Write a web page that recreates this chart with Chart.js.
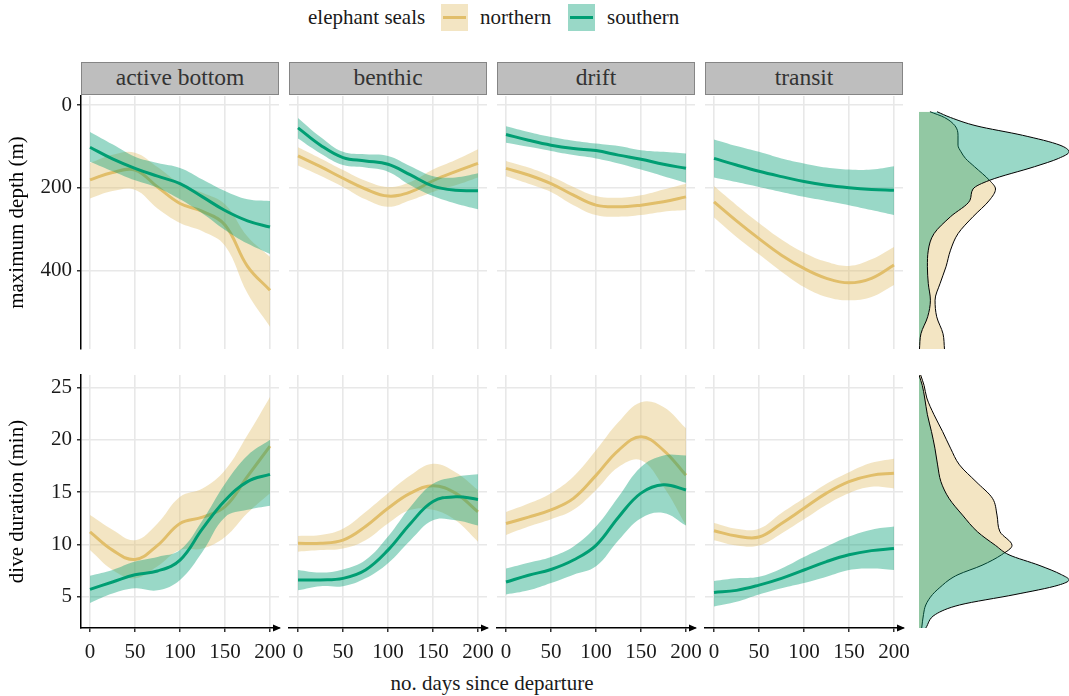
<!DOCTYPE html>
<html>
<head>
<meta charset="utf-8">
<title>Elephant seal dives</title>
<script src="https://cdn.jsdelivr.net/npm/chart.js@4/dist/chart.umd.min.js"></script>
<style>
  body { margin: 0; background: #fff; }
  #wrap { position: relative; width: 1069px; height: 696px; overflow: hidden; font-family: "Liberation Serif", serif; color: #1a1a1a; }
  #wrap canvas { position: absolute; }
  .strip { position: absolute; top: 62px; width: 198px; height: 33px; box-sizing: border-box; background: #bebebe; border: 1.5px solid #858585; font-size: 23.5px; line-height: 29px; text-align: center; color: #333; }
  .txt { position: absolute; font-size: 21px; line-height: 24px; white-space: nowrap; }
  .key { position: absolute; top: 4px; width: 27px; height: 27px; }
  .key i { position: absolute; left: 2px; right: 2px; top: 12px; height: 3px; }
</style>
</head>
<body>
<div id="wrap"></div>
<script>
// Values (smooth fits with 95% bands)
const days = [0, 25, 50, 75, 100, 125, 150, 175, 200];
const dayTicks = [0, 50, 100, 150, 200];
const depthTicks = [0, 200, 400];
const durationTicks = [5, 10, 15, 20, 25];
const dives = ["active bottom", "benthic", "drift", "transit"];
const species = ["northern", "southern"];

// maximum depth (m): one row per dive type
const depthNorthFit = [
  [181, 163, 157, 198, 238, 257, 290, 390, 448],
  [123, 149, 177, 203, 220, 210, 183, 161, 141],
  [153, 169, 190, 218, 242, 246, 242, 234, 222],
  [234, 280, 323, 363, 395, 419, 430, 419, 387]
];
const depthNorthLow = [
  [140, 120, 115, 150, 190, 212, 240, 318, 367],
  [102, 129, 157, 183, 198, 186, 156, 133, 107],
  [135, 151, 172, 198, 220, 224, 218, 204, 190],
  [196, 242, 285, 325, 357, 379, 389, 373, 343]
];
const depthNorthHigh = [
  [226, 208, 205, 250, 285, 305, 340, 455, 536],
  [146, 171, 198, 228, 246, 230, 210, 194, 175],
  [172, 190, 210, 242, 266, 270, 266, 258, 254],
  [272, 319, 361, 403, 440, 464, 472, 464, 435]
];
const depthSouthFit = [
  [102, 130, 153, 172, 190, 222, 255, 280, 295],
  [55, 97, 127, 135, 143, 169, 196, 206, 207],
  [71, 85, 97, 105, 110, 121, 131, 143, 153],
  [129, 145, 160, 173, 185, 194, 200, 204, 206]
];
const depthSouthLow = [
  [65, 95, 125, 140, 152, 180, 208, 228, 232],
  [31, 77, 113, 119, 123, 148, 172, 175, 165],
  [51, 65, 77, 86, 93, 99, 109, 113, 117],
  [83, 99, 113, 129, 141, 151, 156, 156, 148]
];
const depthSouthHigh = [
  [137, 160, 182, 200, 228, 262, 302, 335, 360],
  [81, 117, 145, 151, 161, 194, 220, 238, 252],
  [91, 101, 111, 121, 129, 141, 156, 172, 188],
  [175, 186, 198, 210, 222, 232, 242, 254, 266]
];

// dive duration (min)
const durNorthFit = [
  [11.2, 9.45, 8.55, 9.9, 12.0, 12.6, 13.6, 16.5, 19.4],
  [10.1, 10.1, 10.4, 11.7, 13.45, 14.9, 15.6, 14.9, 13.1],
  [12.0, 12.6, 13.3, 14.4, 16.6, 19.0, 20.3, 19.0, 16.6],
  [11.3, 10.8, 10.7, 12.0, 13.45, 14.9, 16.0, 16.6, 16.8]
];
const durNorthLow = [
  [9.45, 7.55, 6.75, 7.9, 9.45, 9.6, 10.7, 13.0, 14.9],
  [9.3, 9.45, 9.6, 10.4, 12.0, 13.3, 13.3, 12.3, 10.25],
  [10.9, 11.7, 12.4, 13.3, 15.2, 17.4, 18.05, 15.5, 11.8],
  [10.4, 9.9, 9.9, 11.05, 12.4, 13.8, 14.9, 15.5, 15.35]
];
const durNorthHigh = [
  [12.8, 11.4, 10.4, 12.0, 14.55, 15.35, 17.1, 20.45, 24.1],
  [10.8, 10.9, 11.5, 13.1, 14.9, 16.6, 17.7, 16.9, 15.2],
  [13.1, 13.9, 14.9, 16.5, 19.0, 21.7, 23.6, 23.15, 21.1],
  [12.05, 11.5, 11.5, 13.0, 14.4, 15.8, 16.9, 17.8, 18.2]
];
const durSouthFit = [
  [5.7, 6.4, 7.1, 7.45, 8.5, 11.5, 14.2, 16.0, 16.7],
  [6.6, 6.6, 6.75, 7.55, 9.45, 12.0, 14.1, 14.55, 14.3],
  [6.4, 7.05, 7.6, 8.5, 9.9, 12.6, 14.9, 15.7, 15.2],
  [5.4, 5.6, 6.1, 6.75, 7.55, 8.35, 9.0, 9.4, 9.6]
];
const durSouthLow = [
  [4.4, 5.3, 5.8, 5.6, 6.6, 9.3, 12.6, 13.3, 13.7],
  [5.6, 6.0, 6.0, 6.75, 8.2, 10.4, 12.3, 12.3, 11.8],
  [5.2, 5.6, 6.3, 7.1, 7.9, 10.4, 12.5, 13.0, 11.8],
  [4.05, 4.5, 5.2, 5.8, 6.3, 6.9, 7.55, 7.7, 7.55]
];
const durSouthHigh = [
  [7.0, 7.55, 8.35, 8.8, 9.45, 12.3, 15.8, 18.5, 20.0],
  [7.55, 7.3, 7.6, 8.5, 10.75, 13.6, 15.8, 16.45, 16.7],
  [7.7, 8.25, 8.8, 9.8, 11.7, 14.55, 17.4, 18.5, 18.5],
  [6.5, 6.75, 6.9, 7.7, 8.8, 9.8, 10.75, 11.4, 11.7]
];

// marginal densities (scaled so the highest peak is 1)
const depthGrid = [16, 30, 50, 73, 97, 113, 129, 149, 182, 203, 230, 270, 311, 351, 391, 432, 472, 512, 553, 591];
const depthDensNorth = [0.073, 0.17, 0.24, 0.26, 0.26, 0.28, 0.31, 0.37, 0.47, 0.51, 0.47, 0.36, 0.26, 0.21, 0.18, 0.14, 0.107, 0.118, 0.16, 0.17];
const depthDensSouth = [0.12, 0.21, 0.38, 0.69, 0.94, 1.0, 0.93, 0.77, 0.47, 0.36, 0.34, 0.21, 0.10, 0.062, 0.056, 0.062, 0.076, 0.058, 0.013, 0.003];
const durGrid = [26.2, 25.2, 24.0, 22.4, 20.8, 19.2, 17.6, 16.0, 14.4, 12.8, 11.2, 9.9, 9.0, 8.0, 7.1, 6.6, 6.1, 5.2, 4.2, 3.3, 2.0];
const durDensNorth = [0.011, 0.034, 0.052, 0.10, 0.157, 0.21, 0.27, 0.38, 0.49, 0.52, 0.54, 0.62, 0.55, 0.42, 0.26, 0.2, 0.157, 0.09, 0.045, 0.03, 0.018];
const durDensSouth = [0.0, 0.022, 0.038, 0.056, 0.083, 0.106, 0.124, 0.146, 0.20, 0.29, 0.39, 0.51, 0.60, 0.80, 0.95, 1.0, 0.93, 0.64, 0.27, 0.11, 0.045];

// layout and styling
const panelLefts = [81, 289, 497, 705];
const rowTops = [96, 375];
const panelWidth = 198;
const panelHeight = 253;
const pad = 12;
const gridColor = "#e8e8e8";
const lineColors = ["#E1BE6A", "#009E73"];
const fillColors = ["rgba(225,190,106,0.4)", "rgba(0,158,115,0.4)"];
const serif = '"Liberation Serif", serif';
const axisFont = { family: serif, size: 21 };

const wrap = document.getElementById("wrap");

function addCanvas(x, y, w, h) {
  const c = document.createElement("canvas");
  c.width = w;
  c.height = h;
  c.style.left = x + "px";
  c.style.top = y + "px";
  c.style.width = w + "px";
  c.style.height = h + "px";
  wrap.appendChild(c);
  return c;
}

function addText(text, x, y, cls, extra) {
  const d = document.createElement("div");
  d.className = cls;
  d.style.left = x + "px";
  d.style.top = y + "px";
  if (extra) Object.assign(d.style, extra);
  d.textContent = text;
  wrap.appendChild(d);
  return d;
}

function pts(xs, ys) {
  return xs.map((x, i) => ({ x: x, y: ys[i] }));
}

// ribbon (low + high filled to it) and fitted line for one species
function bandSets(low, high, fit, s, order) {
  return [
    { data: pts(days, low), borderColor: "transparent", borderWidth: 0, pointRadius: 0, fill: false, order: order + 2 },
    { data: pts(days, high), borderColor: "transparent", borderWidth: 0, pointRadius: 0, backgroundColor: fillColors[s], fill: "-1", order: order + 1 },
    { data: pts(days, fit), borderColor: lineColors[s], borderWidth: 3, pointRadius: 0, fill: false, order: order }
  ];
}

// arrow head at the end of the x axis
const xAxisArrow = {
  id: "xAxisArrow",
  afterDraw(chart) {
    const { ctx, chartArea } = chart;
    ctx.save();
    ctx.fillStyle = "#000";
    ctx.beginPath();
    ctx.moveTo(chartArea.right + 2, chartArea.bottom);
    ctx.lineTo(chartArea.right - 6, chartArea.bottom - 3.5);
    ctx.lineTo(chartArea.right - 6, chartArea.bottom + 3.5);
    ctx.closePath();
    ctx.fill();
    ctx.restore();
  }
};

function facetChart(row, col) {
  const top = row === 0;
  const first = col === 0;
  const axisH = top ? 0 : 40;
  const cx = first ? 0 : panelLefts[col] - pad;
  const cy = rowTops[row] - pad;
  const w = panelLefts[col] + panelWidth + pad - cx;
  const h = pad + panelHeight + (top ? pad : axisH);
  const canvas = addCanvas(cx, cy, w, h);

  const datasets = top
    ? bandSets(depthNorthLow[col], depthNorthHigh[col], depthNorthFit[col], 0, 4)
        .concat(bandSets(depthSouthLow[col], depthSouthHigh[col], depthSouthFit[col], 1, 1))
    : bandSets(durNorthLow[col], durNorthHigh[col], durNorthFit[col], 0, 4)
        .concat(bandSets(durSouthLow[col], durSouthHigh[col], durSouthFit[col], 1, 1));

  new Chart(canvas, {
    type: "line",
    data: { datasets: datasets },
    options: {
      responsive: false,
      animation: false,
      devicePixelRatio: 1,
      layout: { padding: { left: first ? 0 : pad, right: pad, top: pad, bottom: top ? pad : 0 }, autoPadding: false },
      plugins: { legend: { display: false }, tooltip: { enabled: false } },
      elements: { line: { tension: 0.4 } },
      scales: {
        x: {
          type: "linear",
          min: -10,
          max: 210,
          afterBuildTicks: s => { s.ticks = dayTicks.map(v => ({ value: v })); },
          grid: { color: gridColor, lineWidth: 1.6, drawTicks: !top, tickLength: 4, tickColor: "#000", tickWidth: 1.2 },
          border: { display: !top, color: "#000", width: 1.5 },
          ticks: { display: !top, font: axisFont, color: "#1a1a1a", padding: 8, maxRotation: 0, autoSkip: false },
          afterFit: s => { s.height = axisH; s.paddingLeft = 0; s.paddingRight = 0; }
        },
        y: {
          type: "linear",
          min: top ? -22 : 2,
          max: top ? 590 : 26.2,
          reverse: top,
          afterBuildTicks: s => { s.ticks = (top ? depthTicks : durationTicks).map(v => ({ value: v })); },
          grid: { color: gridColor, lineWidth: 1.6, drawTicks: first, tickLength: 4, tickColor: "#000", tickWidth: 1.2 },
          border: { display: first, color: "#000", width: 1.5 },
          ticks: { display: first, font: axisFont, color: "#1a1a1a", padding: 5 },
          title: {
            display: first,
            text: top ? "maximum depth (m)" : "dive duration (min)",
            font: axisFont,
            color: "#000",
            padding: { top: 5, bottom: 0 }
          },
          afterFit: s => { s.width = first ? 81 : 0; s.paddingTop = 0; s.paddingBottom = 0; }
        }
      }
    },
    plugins: top ? [] : [xAxisArrow]
  });
}

function densityChart(row) {
  const top = row === 0;
  const grid = top ? depthGrid : durGrid;
  const dens = top ? [depthDensNorth, depthDensSouth] : [durDensNorth, durDensSouth];
  const canvas = addCanvas(919, rowTops[row], 150, panelHeight);
  new Chart(canvas, {
    type: "line",
    data: {
      datasets: species.map((sp, s) => ({
        label: sp,
        data: grid.map((g, i) => ({ x: dens[s][i], y: g })),
        borderColor: "#000",
        borderWidth: 1,
        backgroundColor: fillColors[s],
        fill: "origin",
        pointRadius: 0,
        order: 2 - s
      }))
    },
    options: {
      indexAxis: "y",
      responsive: false,
      animation: false,
      devicePixelRatio: 1,
      layout: { padding: 0, autoPadding: false },
      plugins: { legend: { display: false }, tooltip: { enabled: false } },
      elements: { line: { cubicInterpolationMode: "monotone" } },
      scales: {
        x: { type: "linear", display: false, min: 0, max: 1.0 },
        y: { type: "linear", display: false, min: top ? -22 : 2, max: top ? 590 : 26.2, reverse: top }
      }
    }
  });
}

// facet strips
dives.forEach((name, c) => {
  addText(name, panelLefts[c], 62, "strip");
});

// legend
addText("elephant seals", 308, 5, "txt");
const keyLefts = [441, 568];
const labelLefts = [480, 607];
species.forEach((sp, s) => {
  const k = document.createElement("div");
  k.className = "key";
  k.style.left = keyLefts[s] + "px";
  k.style.background = fillColors[s];
  const bar = document.createElement("i");
  bar.style.background = lineColors[s];
  k.appendChild(bar);
  wrap.appendChild(k);
  addText(sp, labelLefts[s], 5, "txt");
});

// x axis title, centred under the four facets
addText("no. days since departure", 81, 671, "txt", { width: "822px", textAlign: "center" });

for (let r = 0; r < 2; r++) {
  for (let c = 0; c < 4; c++) facetChart(r, c);
  densityChart(r);
}
</script>
</body>
</html>
